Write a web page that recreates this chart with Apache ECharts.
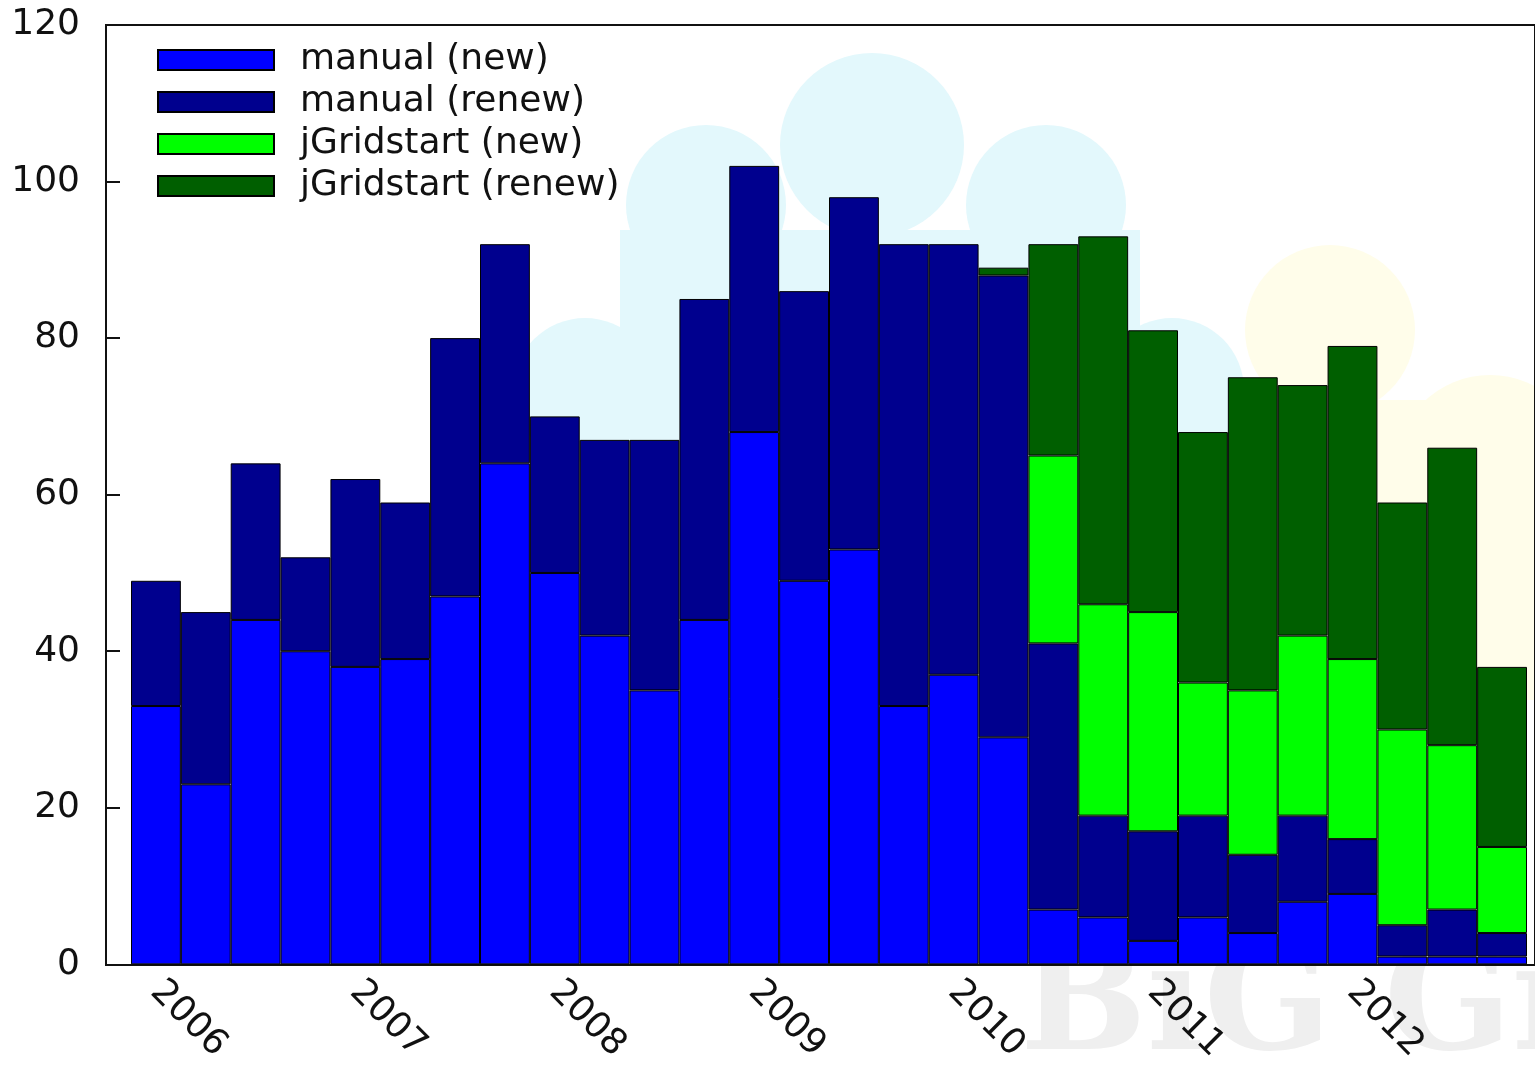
<!DOCTYPE html>
<html>
<head>
<meta charset="utf-8">
<title>certificates per quarter</title>
<script src="https://cdn.jsdelivr.net/npm/echarts@6/dist/echarts.min.js"></script>
<style>
  html, body { margin: 0; padding: 0; background: #fff; }
  #chart { width: 1535px; height: 1066px; }
</style>
</head>
<body>
<div id="chart"></div>
<script>
// quarters 2006 Q1 .. 2012 Q4
var quarters = [
  '2006 Q1', '2006 Q2', '2006 Q3', '2006 Q4',
  '2007 Q1', '2007 Q2', '2007 Q3', '2007 Q4',
  '2008 Q1', '2008 Q2', '2008 Q3', '2008 Q4',
  '2009 Q1', '2009 Q2', '2009 Q3', '2009 Q4',
  '2010 Q1', '2010 Q2', '2010 Q3', '2010 Q4',
  '2011 Q1', '2011 Q2', '2011 Q3', '2011 Q4',
  '2012 Q1', '2012 Q2', '2012 Q3', '2012 Q4'
];
var manualNew   = [33, 23, 44, 40, 38, 39, 47, 64, 50, 42, 35, 44, 68, 49, 53, 33, 37, 29, 7, 6, 3, 6, 4, 8, 9, 1, 1, 1];
var manualRenew = [16, 22, 20, 12, 24, 20, 33, 28, 20, 25, 32, 41, 34, 37, 45, 59, 55, 59, 34, 13, 14, 13, 10, 11, 7, 4, 6, 3];
var jgNew   = [null, null, null, null, null, null, null, null, null, null, null, null, null, null, null, null, null, null, 24, 27, 28, 17, 21, 23, 23, 25, 21, 11];
var jgRenew = [null, null, null, null, null, null, null, null, null, null, null, null, null, null, null, null, null, 1, 27, 47, 36, 32, 40, 32, 40, 29, 38, 23];
var yTicks = [0, 120, 20]; // min, max, step

var FONT = 'DejaVu Sans';
var chart = echarts.init(document.getElementById('chart'));

function seg(name, data, color) {
  return {
    name: name,
    type: 'bar',
    stack: 'all',
    data: data,
    barCategoryGap: '0%',
    itemStyle: { color: color, borderColor: '#000', borderWidth: 1 },
    emphasis: { disabled: true }
  };
}

// pale logo behind the plot
var wm = '#e3f8fc';
var ylw = '#fffdea';
var graphics = [
  { type: 'circle', shape: { cx: 872, cy: 145, r: 92 }, style: { fill: wm } },
  { type: 'circle', shape: { cx: 706, cy: 205, r: 80 }, style: { fill: wm } },
  { type: 'circle', shape: { cx: 1046, cy: 205, r: 80 }, style: { fill: wm } },
  { type: 'circle', shape: { cx: 585, cy: 390, r: 72 }, style: { fill: wm } },
  { type: 'circle', shape: { cx: 1172, cy: 390, r: 72 }, style: { fill: wm } },
  { type: 'rect', shape: { x: 620, y: 230, width: 520, height: 420 }, style: { fill: wm } },
  { type: 'circle', shape: { cx: 1330, cy: 330, r: 85 }, style: { fill: ylw } },
  { type: 'circle', shape: { cx: 1490, cy: 470, r: 95 }, style: { fill: ylw } },
  { type: 'rect', shape: { x: 1250, y: 400, width: 285, height: 300 }, style: { fill: ylw } },
  { type: 'text', left: 1020, top: 935, style: { text: 'BiG Grid', fill: '#efefef', font: 'bold 150px "DejaVu Serif"' } }
];
graphics.forEach(function (g) { g.z = -10; g.silent = true; });

var option = {
  backgroundColor: '#fff',
  animation: false,
  graphic: graphics,
  legend: {
    orient: 'vertical',
    left: 157,
    top: 39,
    padding: 0,
    itemGap: 0,
    itemWidth: 116,
    itemHeight: 20,
    icon: 'rect',
    selectedMode: false,
    textStyle: { fontFamily: FONT, fontSize: 36, color: '#111', lineHeight: 42, padding: [0, 0, 0, 21] },
    data: ['manual (new)', 'manual (renew)', 'jGridstart (new)', 'jGridstart (renew)']
  },
  grid: [
    { left: 131, right: 8, top: 25, bottom: 101 },
    { left: 106, right: -4, top: 25, bottom: 101, show: true, borderColor: '#111', borderWidth: 2, backgroundColor: 'transparent' }
  ],
  xAxis: [
    {
      type: 'category',
      gridIndex: 0,
      data: quarters,
      axisLine: { show: true, lineStyle: { color: '#111', width: 2 } },
      axisTick: { show: false },
      axisLabel: {
        interval: function (i) { return i % 4 === 0; },
        formatter: function (v) { return v.slice(0, 4); },
        rotate: -45,
        margin: 22,
        fontFamily: FONT,
        fontSize: 36,
        color: '#111'
      }
    },
    { type: 'value', gridIndex: 1, show: false, min: 0, max: 1 }
  ],
  yAxis: [
    {
      type: 'value',
      gridIndex: 0,
      min: yTicks[0],
      max: yTicks[1],
      interval: yTicks[2],
      offset: 25,
      axisLine: { show: true, lineStyle: { color: '#111', width: 2 } },
      axisTick: { show: true, inside: true, length: 14, lineStyle: { color: '#111', width: 2 } },
      splitLine: { show: false },
      axisLabel: { margin: 26, fontFamily: FONT, fontSize: 36, color: '#111' }
    },
    { type: 'value', gridIndex: 1, show: false, min: 0, max: 1 }
  ],
  series: [
    seg('manual (new)', manualNew, '#0000ff'),
    seg('manual (renew)', manualRenew, '#00008e'),
    seg('jGridstart (new)', jgNew, '#00ff00'),
    seg('jGridstart (renew)', jgRenew, '#005f00')
  ]
};

chart.setOption(option);
</script>
</body>
</html>
